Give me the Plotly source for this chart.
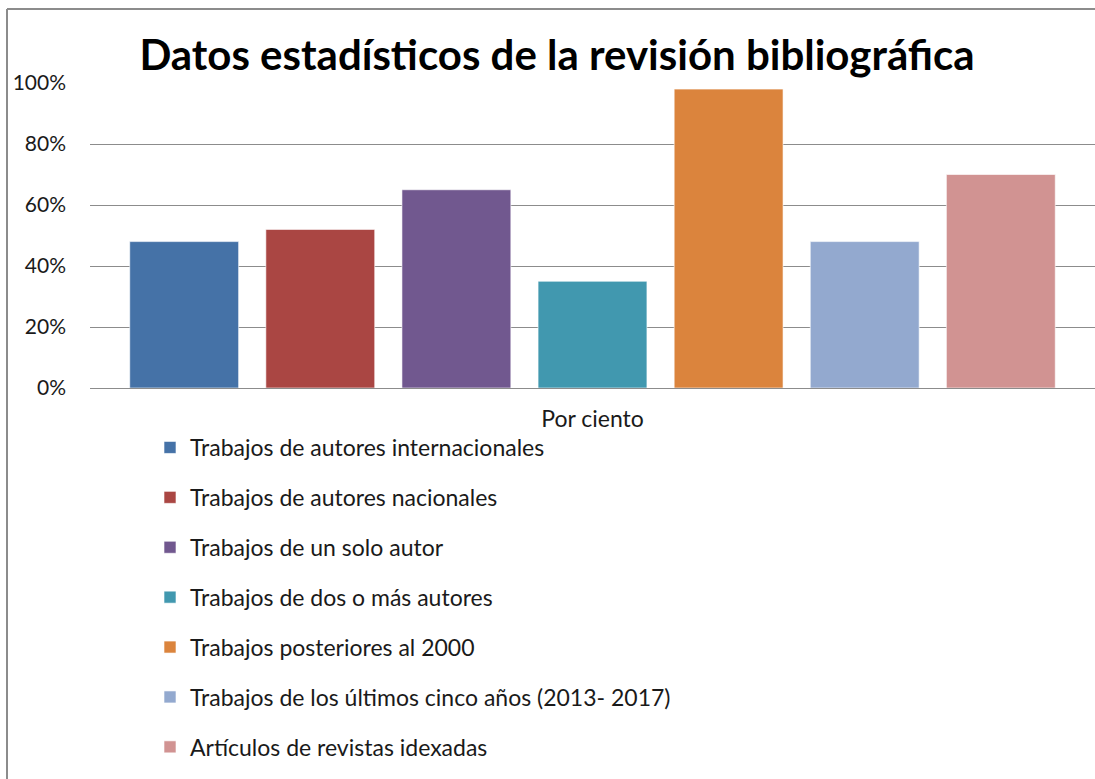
import plotly.graph_objects as go

categories = ["Por ciento"]
series_names = [
    "Trabajos de autores internacionales",
    "Trabajos de autores nacionales",
    "Trabajos de un solo autor",
    "Trabajos de dos o más autores",
    "Trabajos posteriores al 2000",
    "Trabajos de los últimos cinco años (2013- 2017)",
    "Artículos de revistas idexadas",
]
series_values = [0.48, 0.52, 0.65, 0.35, 0.98, 0.48, 0.70]
colors = ["#4572A7", "#AA4643", "#71588F", "#4198AF", "#DB843D", "#93A9CF", "#D19392"]
y_ticks = [0, 0.2, 0.4, 0.6, 0.8, 1.0]
y_tick_labels = ["0%", "20%", "40%", "60%", "80%", "100%"]

fig = go.Figure()
for i, (name, val, col) in enumerate(zip(series_names, series_values, colors)):
    fig.add_trace(go.Bar(
        x=categories, y=[val], name=name,
        marker=dict(color=col, line=dict(color="rgba(255,255,255,0.6)", width=1)),
        legendgroup=f"g{i}",
    ))

W, H = 1095, 779
L, R, T, B = 90, 0, 83, 391
pw = W - L - R
ph = H - T - B

fig.update_layout(
    width=W, height=H,
    margin=dict(l=L, r=R, t=T, b=B, pad=0, autoexpand=False),
    paper_bgcolor="white", plot_bgcolor="white",
    barmode="group", bargap=0.052, bargroupgap=0.2,
    font=dict(family="Lato, Open Sans, sans-serif", size=21, color="#1a1a1a"),
    title=dict(
        text="<b>Datos estadísticos de la revisión bibliográfica</b>",
        font=dict(family="Lato, Open Sans, sans-serif", size=42, color="#000000"),
        x=557 / W, xanchor="center", y=1 - 55 / H, yanchor="middle",
    ),
    xaxis=dict(
        range=[-0.5, 0.5], showgrid=False, showline=False, zeroline=False,
        ticklabelstandoff=15, tickfont=dict(size=23), automargin=False,
    ),
    yaxis=dict(
        range=[0, 1.0], tickvals=y_ticks, ticktext=y_tick_labels,
        showgrid=True, gridcolor="#8c8c8c", gridwidth=1,
        zeroline=True, zerolinecolor="#8c8c8c", zerolinewidth=1,
        showline=False, ticklabelstandoff=23, tickfont=dict(size=21), automargin=False,
    ),
    legend=dict(
        orientation="v", x=(150 - L) / pw, xanchor="left",
        y=-(426 - (T + ph)) / ph, yanchor="top",
        tracegroupgap=17, font=dict(size=23), traceorder="grouped",
        bgcolor="rgba(0,0,0,0)",
    ),
    showlegend=True,
)

# outer chart frame (left and top edges visible)
fig.add_shape(type="line", xref="paper", yref="paper",
              x0=(7 - L) / pw, x1=(7 - L) / pw, y0=1 + (T - 9) / ph, y1=-(H - T - ph) / ph - 0.1,
              line=dict(color="#8c8c8c", width=2))
fig.add_shape(type="line", xref="paper", yref="paper",
              x0=(7 - L) / pw, x1=1.1, y0=1 + (T - 9) / ph, y1=1 + (T - 9) / ph,
              line=dict(color="#8c8c8c", width=2))

fig.write_html("out.html")
